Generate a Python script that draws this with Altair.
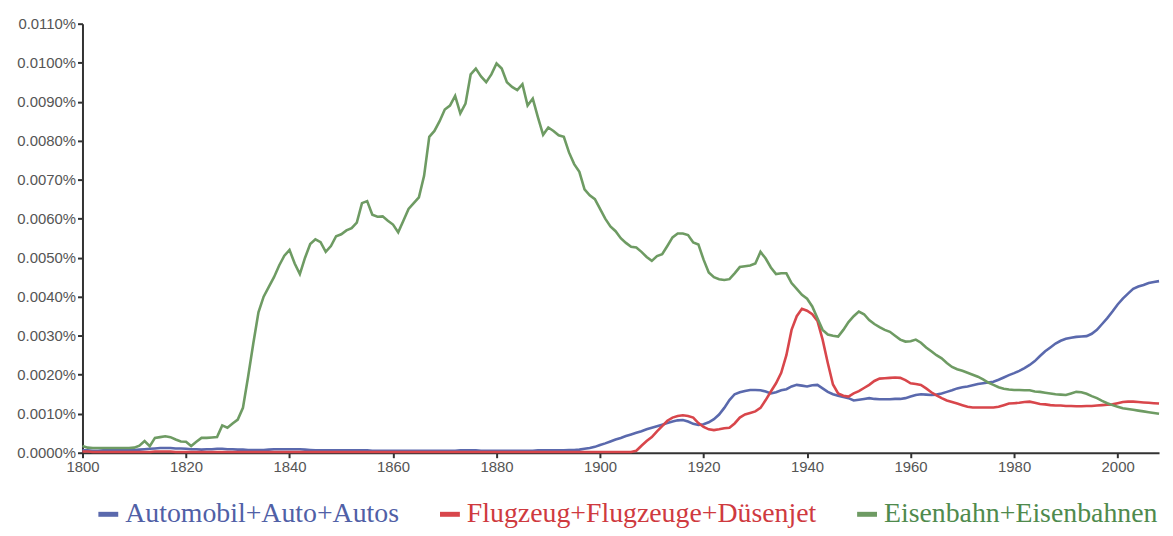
import altair as alt
import pandas as pd

# Values in units of 0.001 % (thousandths of a percent), one per year 1800..2008
years = list(range(1800, 2009))

series_names = ["Automobil+Auto+Autos", "Flugzeug+Flugzeuge+Düsenjet", "Eisenbahn+Eisenbahnen"]
line_colors = ["#5a69ad", "#d8464b", "#6e9b63"]
label_colors = ["#5060a6", "#cf3a3f", "#4f8a4d"]

automobil = [
    0.06, 0.06, 0.05, 0.05, 0.06, 0.06, 0.06, 0.06, 0.07, 0.07,
    0.07, 0.08, 0.09, 0.10, 0.11, 0.12, 0.12, 0.12, 0.11, 0.11,
    0.10, 0.09, 0.09, 0.08, 0.09, 0.09, 0.10, 0.10, 0.09, 0.09,
    0.08, 0.08, 0.07, 0.07, 0.07, 0.07, 0.08, 0.09, 0.09, 0.09,
    0.09, 0.09, 0.09, 0.08, 0.07, 0.06, 0.06, 0.06, 0.06, 0.06,
    0.06, 0.06, 0.06, 0.06, 0.06, 0.06, 0.05, 0.05, 0.05, 0.05,
    0.05, 0.05, 0.05, 0.05, 0.05, 0.05, 0.05, 0.05, 0.05, 0.05,
    0.05, 0.05, 0.05, 0.06, 0.06, 0.06, 0.06, 0.05, 0.05, 0.05,
    0.05, 0.05, 0.05, 0.05, 0.05, 0.05, 0.05, 0.05, 0.06, 0.06,
    0.06, 0.06, 0.06, 0.06, 0.07, 0.07, 0.08, 0.10, 0.12, 0.15,
    0.20, 0.24, 0.29, 0.34, 0.38, 0.43, 0.47, 0.51, 0.55, 0.60,
    0.64, 0.68, 0.72, 0.76, 0.80, 0.83, 0.84, 0.80, 0.74, 0.71,
    0.73, 0.78, 0.86, 0.98, 1.15, 1.35, 1.50, 1.55, 1.58, 1.61,
    1.61, 1.60, 1.57, 1.52, 1.55, 1.60, 1.63, 1.70, 1.74, 1.72,
    1.70, 1.73, 1.74, 1.65, 1.56, 1.50, 1.46, 1.43, 1.40, 1.34,
    1.36, 1.38, 1.40, 1.38, 1.37, 1.37, 1.37, 1.38, 1.38, 1.40,
    1.44, 1.48, 1.50, 1.49, 1.48, 1.49, 1.52, 1.56, 1.60, 1.65,
    1.68, 1.70, 1.73, 1.76, 1.78, 1.80, 1.82, 1.87, 1.93, 1.99,
    2.04, 2.10, 2.17, 2.25, 2.35, 2.48, 2.60, 2.70, 2.80, 2.87,
    2.92, 2.95, 2.97, 2.98, 2.99, 3.05, 3.15, 3.30, 3.45, 3.62,
    3.80, 3.95, 4.08, 4.20, 4.26, 4.30, 4.35, 4.38, 4.40,
]

flugzeug = [
    0.03, 0.03, 0.02, 0.02, 0.02, 0.02, 0.02, 0.02, 0.02, 0.02,
    0.02, 0.02, 0.02, 0.02, 0.03, 0.03, 0.03, 0.03, 0.02, 0.02,
    0.02, 0.02, 0.02, 0.02, 0.02, 0.02, 0.02, 0.02, 0.02, 0.02,
    0.02, 0.02, 0.02, 0.02, 0.02, 0.02, 0.02, 0.02, 0.02, 0.02,
    0.02, 0.02, 0.02, 0.02, 0.02, 0.02, 0.02, 0.02, 0.02, 0.02,
    0.02, 0.02, 0.02, 0.02, 0.02, 0.02, 0.02, 0.02, 0.02, 0.02,
    0.02, 0.02, 0.02, 0.02, 0.02, 0.02, 0.02, 0.02, 0.02, 0.02,
    0.02, 0.02, 0.02, 0.02, 0.02, 0.02, 0.02, 0.02, 0.02, 0.02,
    0.02, 0.02, 0.02, 0.02, 0.02, 0.02, 0.02, 0.02, 0.02, 0.02,
    0.02, 0.02, 0.02, 0.02, 0.02, 0.02, 0.02, 0.02, 0.02, 0.02,
    0.02, 0.02, 0.02, 0.02, 0.02, 0.02, 0.02, 0.05, 0.18, 0.30,
    0.40, 0.55, 0.68, 0.82, 0.90, 0.94, 0.96, 0.94, 0.90, 0.76,
    0.66, 0.60, 0.58, 0.60, 0.63, 0.64, 0.75, 0.90, 0.98, 1.02,
    1.06, 1.15, 1.35, 1.57, 1.78, 2.05, 2.50, 3.15, 3.50, 3.69,
    3.64, 3.55, 3.38, 2.90, 2.30, 1.75, 1.52, 1.46, 1.44, 1.52,
    1.58, 1.66, 1.74, 1.84, 1.90, 1.91, 1.92, 1.93, 1.92, 1.86,
    1.78, 1.76, 1.74, 1.65, 1.55, 1.47, 1.40, 1.34, 1.30, 1.26,
    1.22, 1.18, 1.16, 1.16, 1.16, 1.16, 1.16, 1.18, 1.22, 1.26,
    1.27, 1.28, 1.30, 1.31, 1.28, 1.25, 1.24, 1.22, 1.21, 1.21,
    1.20, 1.20, 1.19, 1.19, 1.20, 1.20, 1.21, 1.22, 1.23, 1.24,
    1.27, 1.30, 1.31, 1.31, 1.30, 1.29, 1.28, 1.27, 1.26,
]

eisenbahn = [
    0.17, 0.13, 0.12, 0.12, 0.12, 0.12, 0.12, 0.12, 0.12, 0.12,
    0.13, 0.18, 0.30, 0.17, 0.38, 0.40, 0.42, 0.40, 0.34, 0.29,
    0.28, 0.17, 0.28, 0.38, 0.38, 0.39, 0.40, 0.70, 0.64, 0.75,
    0.85, 1.15, 1.95, 2.80, 3.60, 4.00, 4.25, 4.50, 4.80, 5.05,
    5.20, 4.85, 4.58, 5.00, 5.35, 5.47, 5.40, 5.15, 5.30, 5.55,
    5.60, 5.70, 5.76, 5.90, 6.40, 6.45, 6.10, 6.05, 6.06, 5.95,
    5.85, 5.65, 5.95, 6.25, 6.40, 6.55, 7.10, 8.10, 8.25, 8.50,
    8.80, 8.90, 9.15, 8.70, 8.95, 9.70, 9.85, 9.65, 9.50, 9.70,
    9.98, 9.85, 9.50, 9.38, 9.30, 9.45, 8.90, 9.08, 8.60, 8.15,
    8.34, 8.25, 8.14, 8.10, 7.70, 7.40, 7.20, 6.75, 6.60, 6.50,
    6.25, 6.00, 5.80, 5.68, 5.50, 5.38, 5.28, 5.26, 5.15, 5.02,
    4.92, 5.04, 5.09, 5.30, 5.52, 5.62, 5.62, 5.58, 5.39, 5.34,
    4.95, 4.62, 4.50, 4.45, 4.43, 4.45, 4.60, 4.76, 4.78, 4.80,
    4.85, 5.15, 4.98, 4.75, 4.58, 4.60, 4.60, 4.35, 4.20, 4.05,
    3.95, 3.75, 3.45, 3.15, 3.03, 3.00, 2.98, 3.15, 3.35, 3.50,
    3.62, 3.55, 3.40, 3.30, 3.22, 3.15, 3.10, 3.00, 2.90, 2.85,
    2.86, 2.90, 2.82, 2.70, 2.60, 2.50, 2.42, 2.30, 2.20, 2.14,
    2.10, 2.05, 2.00, 1.95, 1.88, 1.80, 1.74, 1.68, 1.64, 1.62,
    1.61, 1.61, 1.60, 1.60, 1.57, 1.56, 1.54, 1.52, 1.50, 1.49,
    1.48, 1.52, 1.56, 1.55, 1.51, 1.45, 1.40, 1.33, 1.27, 1.22,
    1.18, 1.14, 1.12, 1.10, 1.08, 1.06, 1.04, 1.02, 1.00,
]

y_ticks = [0, 0.001, 0.002, 0.003, 0.004, 0.005, 0.006, 0.007, 0.008, 0.009, 0.010, 0.011]
x_ticks = [1800, 1820, 1840, 1860, 1880, 1900, 1920, 1940, 1960, 1980, 2000]

rows = []
for name, vals in zip(series_names, [automobil, flugzeug, eisenbahn]):
    for yr, v in zip(years, vals):
        rows.append({"year": yr, "pct": v / 1000.0, "series": name})
df = pd.DataFrame(rows)

label_color_expr = (
    f"datum.label == '{series_names[0]}' ? '{label_colors[0]}' : "
    f"datum.label == '{series_names[1]}' ? '{label_colors[1]}' : '{label_colors[2]}'"
)

chart = alt.Chart(df).mark_line(strokeWidth=2.6, interpolate="linear").encode(
    x=alt.X("year:Q",
            scale=alt.Scale(domain=[1800, 2008], nice=False, zero=False),
            axis=alt.Axis(values=x_ticks, format="d", title=None, grid=False,
                          labelFlush=False)),
    y=alt.Y("pct:Q",
            scale=alt.Scale(domain=[0, 0.011], nice=False),
            axis=alt.Axis(values=y_ticks, title=None, grid=False,
                          labelExpr="format(datum.value, '.4f') + '%'")),
    color=alt.Color("series:N",
                    scale=alt.Scale(domain=series_names, range=line_colors),
                    sort=series_names,
                    legend=alt.Legend(title=None, orient="none", direction="horizontal",
                                      legendX=12, legendY=480,
                                      symbolType="stroke", symbolStrokeWidth=5, symbolSize=400,
                                      labelFont="Liberation Serif", labelFontSize=28,
                                      labelColor=alt.ExprRef(label_color_expr),
                                      labelLimit=600, columnPadding=31, labelOffset=3,
                                      symbolOffset=0)),
).properties(
    width=1084, height=432,
    padding={"left": 8, "right": 0, "top": 7, "bottom": 0},
).configure_view(
    stroke=None
).configure_axis(
    domainColor="#333333", domainWidth=2, tickColor="#333333", tickWidth=2, tickSize=5,
    labelColor="#555555", labelFont="Liberation Sans", labelFontSize=15, labelPadding=2,
)

chart.save("out.html", embed_options={"renderer": "svg", "actions": False})
